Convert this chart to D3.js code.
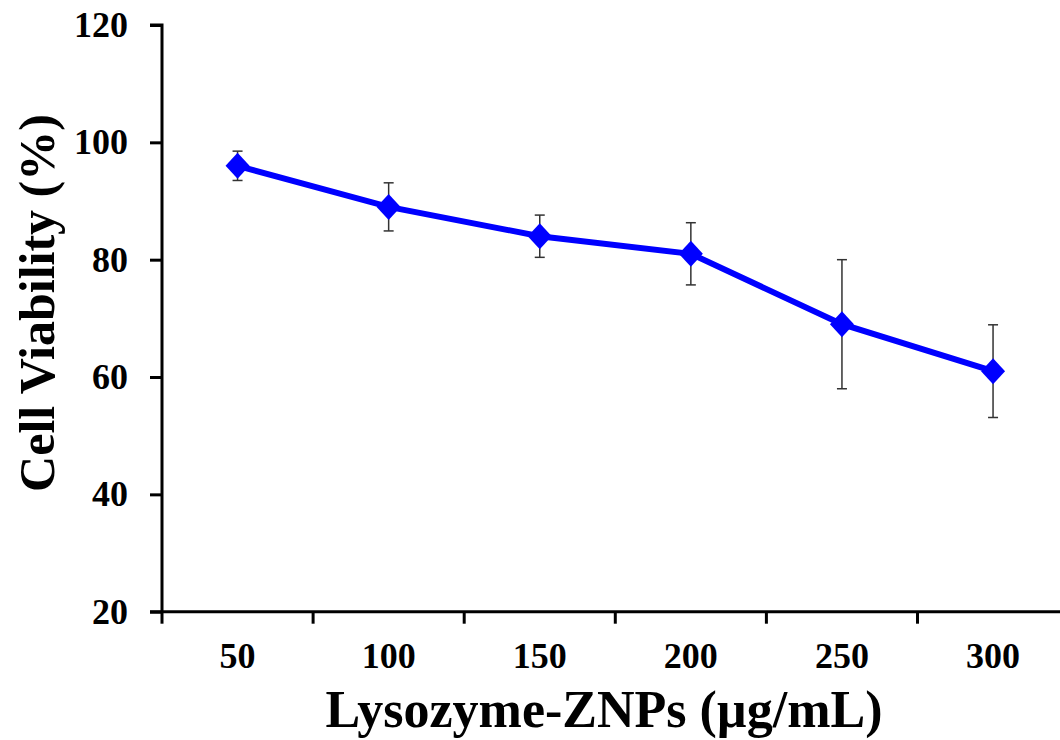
<!DOCTYPE html>
<html>
<head>
<meta charset="utf-8">
<script src="https://cdn.jsdelivr.net/npm/d3@7"></script>
<style>
  body { margin: 0; background: #fff; }
  .chart text { font-family: "Liberation Serif", "Times New Roman", serif; font-weight: bold; fill: #000; }
</style>
</head>
<body>
<div class="chart"></div>
<script>
// 資料
const doses = ['50', '100', '150', '200', '250', '300']
const viability = [96, 89, 84, 81, 69, 61]
const errors = [2.5, 4.1, 3.6, 5.3, 11, 7.9]
const yTicks = [20, 40, 60, 80, 100, 120]

const width = 1060, height = 740

const svg = d3.select('.chart')
              .append('svg')
              .attr('width', width)
              .attr('height', height)

// X 軸 (band)
const xScale = d3.scaleBand()
                 .domain(doses)
                 .range([162, 162 + 151.1 * doses.length])
                 .padding(0)

// Y 軸
const yScale = d3.scaleLinear()
                 .domain([20, 120])
                 .range([611.7, 25])

const yAxis = d3.axisLeft(yScale)
                .tickValues(yTicks)
                .tickSize(12)
                .tickPadding(22)

const yAxisGroup = svg.append('g')
                      .attr('transform', `translate(${xScale.range()[0]},0)`)
                      .call(yAxis)
yAxisGroup.select('.domain').attr('d', `M-12,${yScale(120)}H0V${yScale(20)}`)

const xAxis = d3.axisBottom(xScale)
                .tickSize(0)
                .tickPadding(31)

const xAxisGroup = svg.append('g')
                      .attr('transform', `translate(0,${yScale(20)})`)
                      .call(xAxis)
xAxisGroup.select('.domain').attr('d', `M${xScale.range()[0] - 12},0H${width}`)

// 類別之間的刻度
xAxisGroup.selectAll('.bound')
          .data(doses)
          .join('line')
          .attr('class', 'bound')
          .attr('x1', d => xScale(d))
          .attr('x2', d => xScale(d))
          .attr('y1', 0)
          .attr('y2', 12)
          .attr('stroke', '#000')
          .attr('stroke-width', 3)

svg.selectAll('.domain, .tick line')
   .attr('stroke', '#000')
   .attr('stroke-width', 3)

svg.selectAll('.tick text')
   .style('font-size', '36px')

const cx = d => xScale(d) + xScale.bandwidth() / 2
const points = doses.map((d, i) => ({dose: d, v: viability[i], e: errors[i]}))

// 誤差線
const err = svg.append('g')
               .selectAll('g')
               .data(points)
               .join('g')
               .attr('stroke', '#333')
               .attr('stroke-width', 1.5)

err.append('line')
   .attr('x1', d => cx(d.dose)).attr('x2', d => cx(d.dose))
   .attr('y1', d => yScale(d.v + d.e)).attr('y2', d => yScale(d.v - d.e))
err.append('line')
   .attr('x1', d => cx(d.dose) - 5).attr('x2', d => cx(d.dose) + 5)
   .attr('y1', d => yScale(d.v + d.e)).attr('y2', d => yScale(d.v + d.e))
err.append('line')
   .attr('x1', d => cx(d.dose) - 5).attr('x2', d => cx(d.dose) + 5)
   .attr('y1', d => yScale(d.v - d.e)).attr('y2', d => yScale(d.v - d.e))

// 折線
const line = d3.line()
               .x(d => cx(d.dose))
               .y(d => yScale(d.v))

svg.append('path')
   .datum(points)
   .attr('d', line)
   .attr('fill', 'none')
   .attr('stroke', '#0000ff')
   .attr('stroke-width', 6)

// 菱形標記
svg.append('g')
   .selectAll('path')
   .data(points)
   .join('path')
   .attr('d', 'M0,-13L12,0L0,13L-12,0Z')
   .attr('transform', d => `translate(${cx(d.dose)},${yScale(d.v)})`)
   .attr('fill', '#0000ff')

// 軸標題
svg.append('text')
   .attr('x', (323 + 885) / 2)
   .attr('y', 727)
   .attr('text-anchor', 'middle')
   .style('font-size', '52px')
   .text('Lysozyme-ZNPs (µg/mL)')

svg.append('text')
   .attr('transform', 'translate(54,303) rotate(-90)')
   .attr('text-anchor', 'middle')
   .style('font-size', '50px')
   .text('Cell Viability (%)')
</script>
</body>
</html>
